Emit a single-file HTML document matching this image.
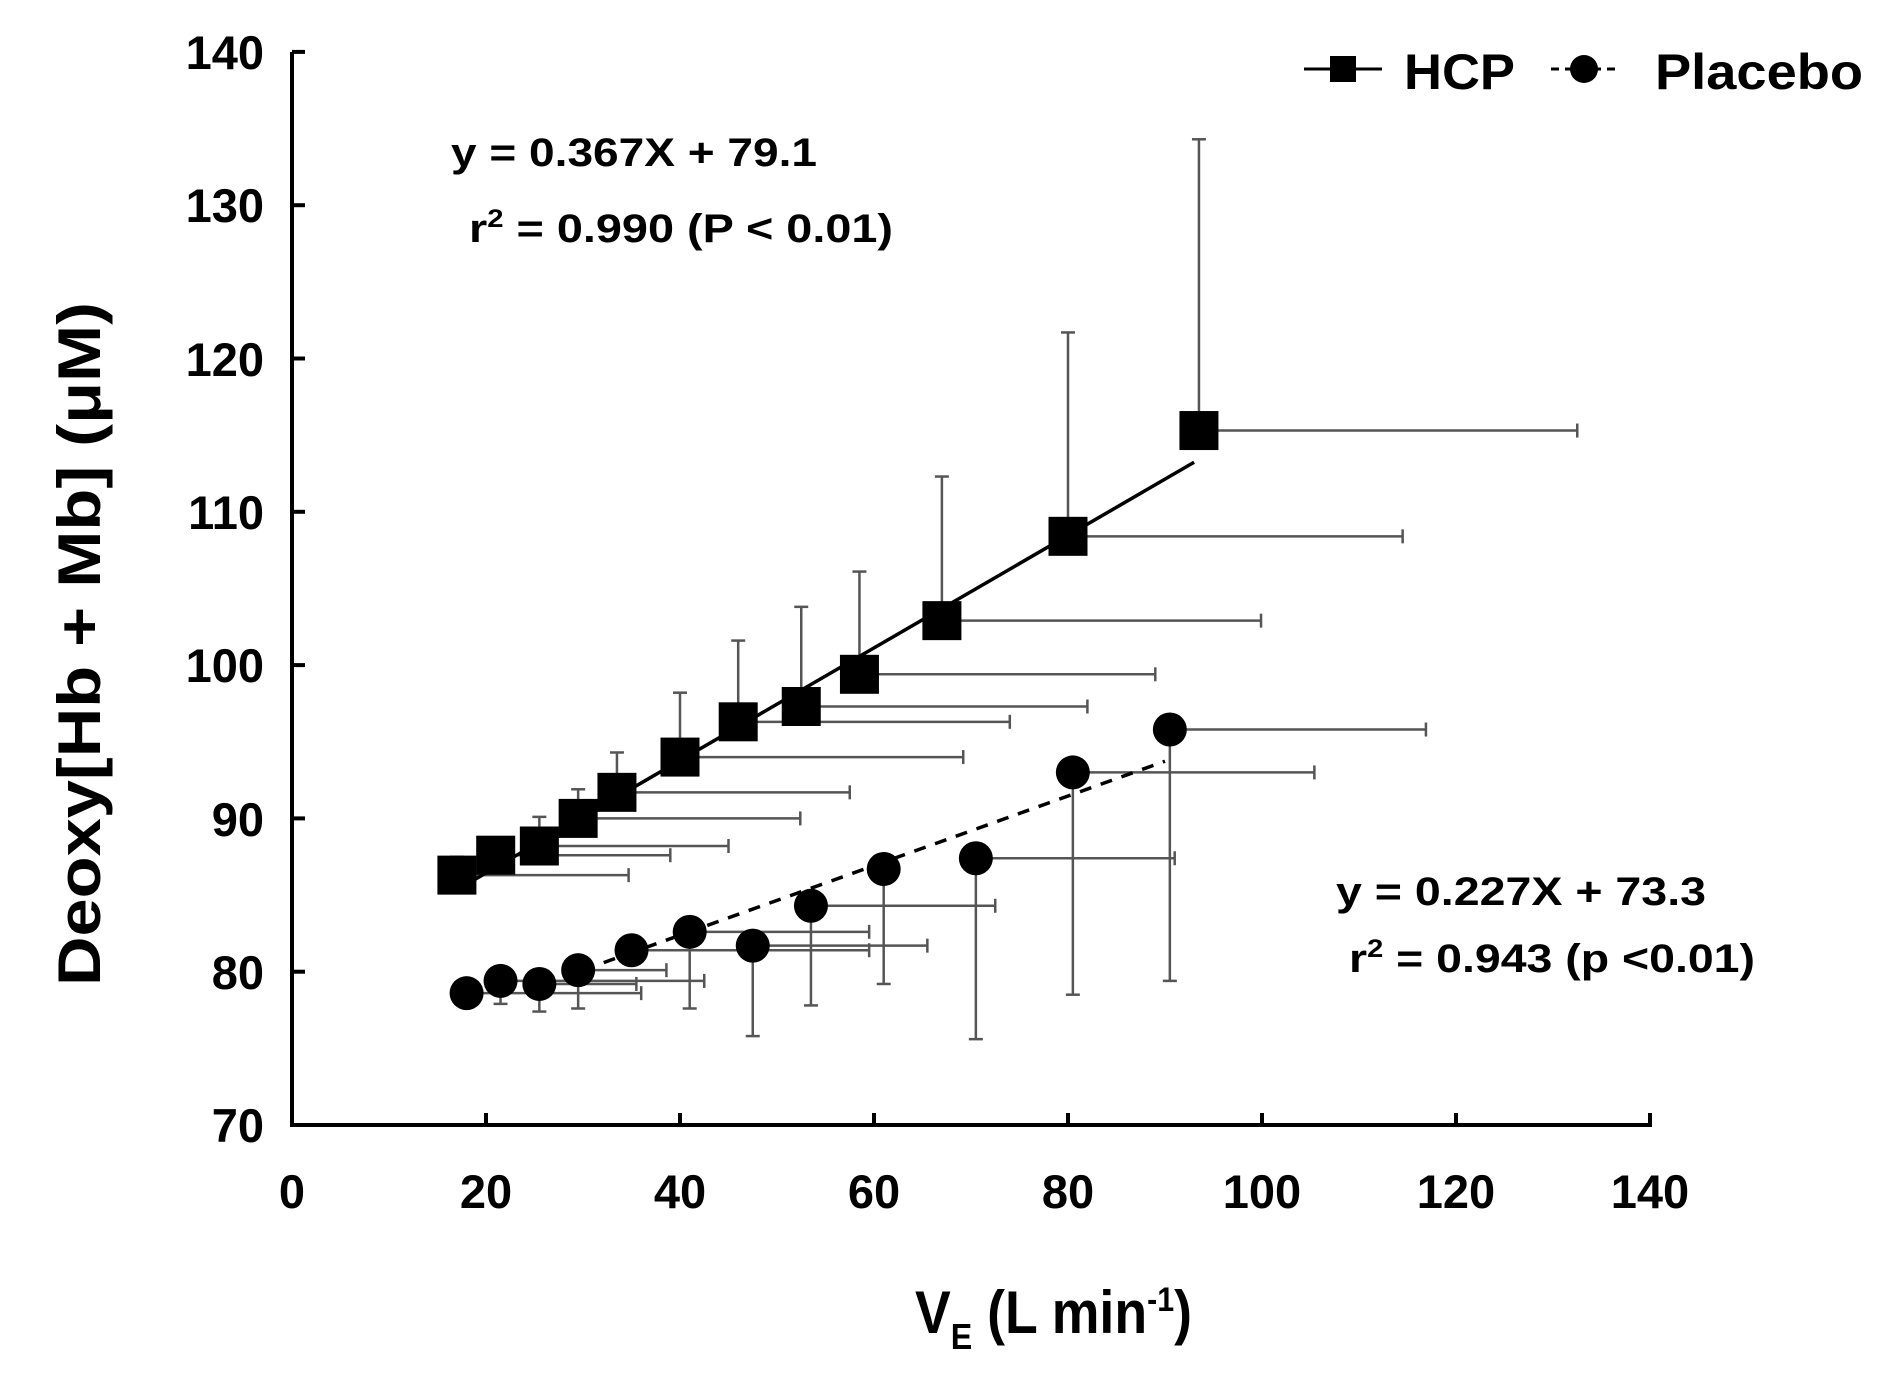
<!DOCTYPE html>
<html><head><meta charset="utf-8"><style>
html,body{margin:0;padding:0;background:#fff;}
svg{display:block;}
text{font-family:"Liberation Sans",Arial,sans-serif;font-weight:bold;fill:#000;}
</style></head><body>
<svg id="s" width="1898" height="1389" viewBox="0 0 1898 1389" xmlns="http://www.w3.org/2000/svg">
<g id="g"></g>
<g font-size="47" text-anchor="end">
<text x="264" y="1142">70</text><text x="264" y="989">80</text><text x="264" y="836">90</text>
<text x="264" y="682">100</text><text x="264" y="529">110</text><text x="264" y="376">120</text>
<text x="264" y="222">130</text><text x="264" y="69">140</text>
</g>
<g font-size="47" text-anchor="middle">
<text x="292" y="1208">0</text><text x="486" y="1208">20</text><text x="680" y="1208">40</text>
<text x="874" y="1208">60</text><text x="1068" y="1208">80</text><text x="1262" y="1208">100</text>
<text x="1456" y="1208">120</text><text x="1650" y="1208">140</text>
</g>
<text transform="translate(100,644) rotate(-90)" font-size="60" text-anchor="middle" textLength="684" lengthAdjust="spacingAndGlyphs">Deoxy[Hb + Mb] (μM)</text>
<text x="915" y="1333" font-size="60" textLength="277" lengthAdjust="spacingAndGlyphs">V<tspan font-size="36" dy="16">E</tspan><tspan dy="-16"> (L min</tspan><tspan font-size="34" dy="-22">-1</tspan><tspan dy="22">)</tspan></text>
<text x="451" y="166" font-size="40" textLength="366" lengthAdjust="spacingAndGlyphs">y = 0.367X + 79.1</text>
<text x="469" y="242" font-size="40" textLength="424" lengthAdjust="spacingAndGlyphs">r<tspan font-size="25" dy="-15">2</tspan><tspan dy="15"> = 0.990 (P &lt; 0.01)</tspan></text>
<text x="1336" y="905" font-size="40" textLength="370" lengthAdjust="spacingAndGlyphs">y = 0.227X + 73.3</text>
<text x="1349" y="972" font-size="40" textLength="406" lengthAdjust="spacingAndGlyphs">r<tspan font-size="25" dy="-15">2</tspan><tspan dy="15"> = 0.943 (p &lt;0.01)</tspan></text>
<line x1="1304" y1="69" x2="1382" y2="69" stroke="#000" stroke-width="3"/>
<rect x="1330" y="56" width="26" height="26" fill="#000"/>
<text x="1404" y="89" font-size="50" textLength="111" lengthAdjust="spacingAndGlyphs">HCP</text>
<line x1="1551" y1="69" x2="1617" y2="69" stroke="#000" stroke-width="3" stroke-dasharray="8,6"/>
<circle cx="1584" cy="69" r="14" fill="#000"/>
<text x="1655" y="89" font-size="50" textLength="208" lengthAdjust="spacingAndGlyphs">Placebo</text>
</svg>
<script>
var g=document.getElementById('g'),h='';
function X(v){return 292+9.7*v;}function Y(v){return 1125-15.33*(v-70);}
function L(a,b,c,d,col,w,da){h+='<line x1="'+a+'" y1="'+b+'" x2="'+c+'" y2="'+d+'" stroke="'+col+'" stroke-width="'+w+'"'+(da?' stroke-dasharray="'+da+'"':'')+'/>';}
L(292,52,292,1126,'#000',4);L(290,1125,1652,1125,'#000',4);
for(var i=1;i<=7;i++){L(X(i*20),1125,X(i*20),1113,'#000',4);L(292,Y(70+i*10),305,Y(70+i*10),'#000',4);}
var gc='#555';
var hcp=[[17,86.3,87.5,34.7],[21,87.6,88.5,39],[25.5,88.2,90.1,45],[29.5,90,91.9,52.4],[33.5,91.7,94.3,57.5],[40,94,98.2,69.2],[46,96.3,101.6,74],[52.5,97.3,103.8,82],[58.5,99.4,106.1,89],[67,102.9,112.3,99.9],[80,108.4,121.7,114.5],[93.5,115.3,134.3,132.5]];
var pl=[[18,78.6,77.9,36],[21.5,79.4,77.9,42.5],[25.5,79.2,77.4,35.5],[29.5,80.1,77.6,38.6],[35,81.4,80.5,59.5],[41,82.6,77.6,59.5],[47.5,81.7,75.8,65.5],[53.5,84.3,77.8,72.5],[61,86.7,79.2,60],[70.5,87.4,75.6,91],[80.5,93,78.5,105.4],[90.5,95.8,79.4,116.9]];
function eb(d){var x=X(d[0]),y=Y(d[1]),y2=Y(d[2]),x2=X(d[3]);L(x,y,x,y2,gc,2.5);L(x-7,y2,x+7,y2,gc,2.5);L(x,y,x2,y,gc,2.5);L(x2,y-7,x2,y+7,gc,2.5);}
hcp.forEach(eb);pl.forEach(eb);
L(X(17),Y(0.367*17+79.1),X(93),Y(0.367*93+79.1),'#000',3.5);
L(X(30),Y(0.227*30+73.3),X(90),Y(0.227*90+73.3),'#000',3.5,'12,10');
hcp.forEach(function(d){h+='<rect x="'+(X(d[0])-19.5)+'" y="'+(Y(d[1])-19.5)+'" width="39" height="39" fill="#000"/>';});
pl.forEach(function(d){h+='<circle cx="'+X(d[0])+'" cy="'+Y(d[1])+'" r="17" fill="#000"/>';});
g.innerHTML=h;
</script>
</body></html>
